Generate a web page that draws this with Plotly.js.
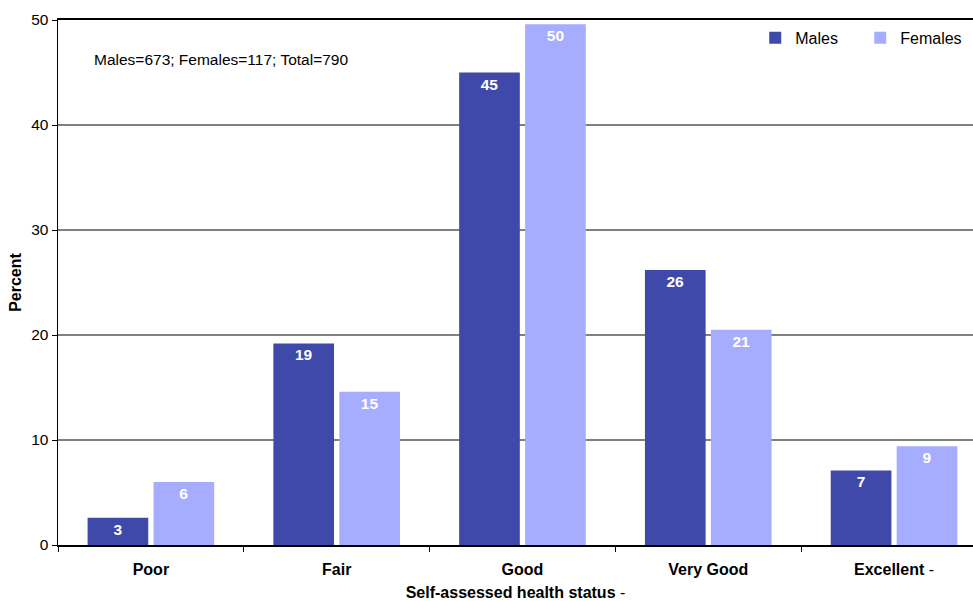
<!DOCTYPE html>
<html>
<head>
<meta charset="utf-8">
<script src="https://cdn.plot.ly/plotly-3.0.1.min.js"></script>
<style>
  html, body { margin: 0; padding: 0; background: #ffffff; }
  #chart { width: 973px; height: 601px; }
</style>
</head>
<body>
<div id="chart"></div>
<script>
// Self-assessed health status by sex (percent)
const categories = ['<b>Poor</b>', '<b>Fair</b>', '<b>Good</b>', '<b>Very Good</b>', '<b>Excellent</b> -'];
const males   = [2.6, 19.2, 45.0, 26.2, 7.1];
const females = [6.0, 14.6, 49.6, 20.5, 9.4];
const yTicks  = [0, 10, 20, 30, 40, 50];
const sampleNote = 'Males=673; Females=117; Total=790';

const FONT = 'Arial, "Liberation Sans", sans-serif';

const labelFont = { family: FONT, size: 15.5, color: '#ffffff' };

const traces = [
  {
    type: 'bar', name: 'Males', x: categories, y: males,
    marker: { color: '#3f49aa' },
    texttemplate: '<b>%{y:.0f}</b>', textposition: 'inside',
    insidetextanchor: 'end', textangle: 0, textfont: labelFont,
    hoverinfo: 'skip'
  },
  {
    type: 'bar', name: 'Females', x: categories, y: females,
    marker: { color: '#a7adfe' },
    texttemplate: '<b>%{y:.0f}</b>', textposition: 'inside',
    insidetextanchor: 'end', textangle: 0, textfont: labelFont,
    hoverinfo: 'skip'
  }
];

const layout = {
  width: 973, height: 601,
  margin: { l: 58, r: 0, t: 20, b: 56 },
  paper_bgcolor: '#ffffff', plot_bgcolor: '#ffffff',
  font: { family: FONT, size: 16, color: '#000000' },
  barmode: 'group', bargap: 0.29, bargroupgap: 0.08,
  showlegend: true,
  legend: {
    orientation: 'h', x: 0.762, y: 0.966, xanchor: 'left', yanchor: 'middle',
    font: { family: FONT, size: 16, color: '#000000' },
    itemwidth: 30, entrywidth: 60, entrywidthmode: 'pixels',
    tracegroupgap: 0, bgcolor: 'rgba(0,0,0,0)'
  },
  xaxis: {
    type: 'category', range: [-0.5, 4.425],
    showline: true, linecolor: '#000000', linewidth: 2, mirror: true,
    ticks: 'outside', tickson: 'boundaries', ticklen: 5, tickcolor: '#000000',
    ticklabelstandoff: 9,
    showgrid: false, zeroline: false, fixedrange: true,
    tickfont: { family: FONT, size: 16, color: '#000000' },
    automargin: false,
    title: { text: '<b>Self-assessed health status</b> -', font: { family: FONT, size: 16, color: '#000000' }, standoff: 10 }
  },
  yaxis: {
    range: [0, 50], tickvals: yTicks, ticktext: yTicks.map(String),
    showline: true, linecolor: '#000000', linewidth: 1.5,
    ticks: 'outside', ticklen: 5, tickcolor: '#000000',
    showgrid: true, gridcolor: '#808080', gridwidth: 1.3,
    zeroline: false, fixedrange: true, automargin: false,
    tickfont: { family: FONT, size: 15.5, color: '#000000' },
    title: { text: '<b>Percent</b>', font: { family: FONT, size: 16, color: '#000000' }, standoff: 5 }
  },
  annotations: [
    {
      text: sampleNote, xref: 'paper', yref: 'paper',
      x: 0.037, y: 0.924, xanchor: 'left', yanchor: 'middle',
      showarrow: false, font: { family: FONT, size: 15.5, color: '#000000' }
    }
  ]
};

Plotly.newPlot('chart', traces, layout, { displayModeBar: false, staticPlot: true });
</script>
</body>
</html>
